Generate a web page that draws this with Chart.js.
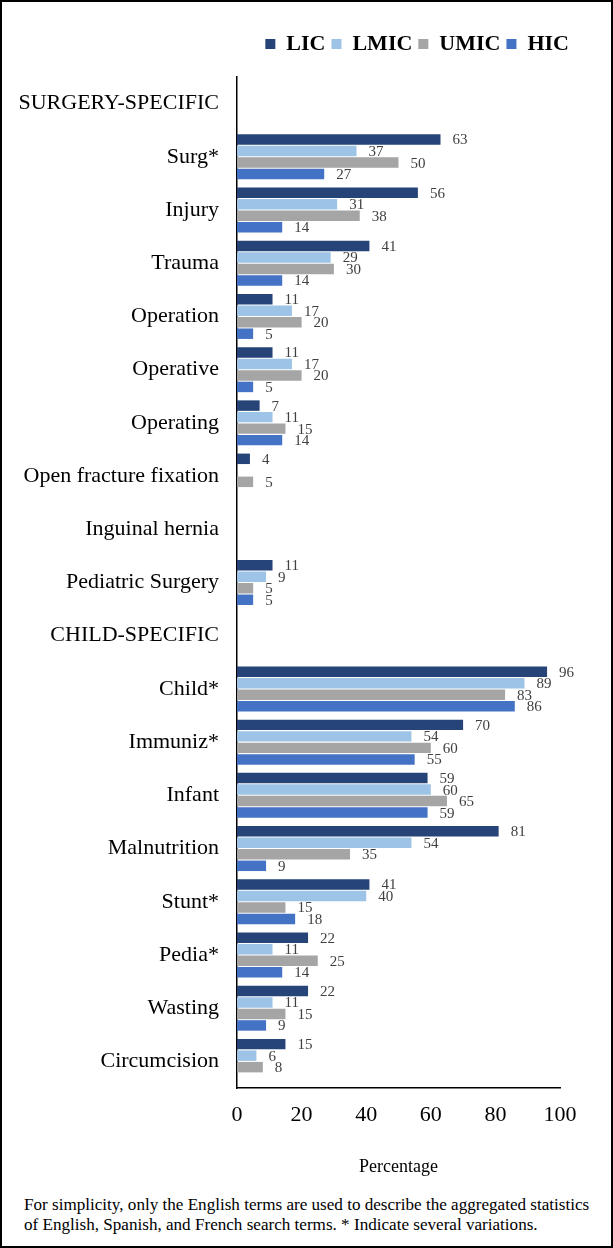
<!DOCTYPE html>
<html>
<head>
<meta charset="utf-8">
<script src="https://cdn.jsdelivr.net/npm/chart.js@4.4.1/dist/chart.umd.min.js"></script>
<style>
  body { margin: 0; background: #fff; }
  #frame { width: 613px; height: 1248px; border: 2px solid #000; box-sizing: border-box; position: relative; }
  #wrap { position: absolute; left: 0; top: 0; width: 609px; height: 1180px; }
  #note { position: absolute; left: 22px; top: 1193px; width: 578px; font-family: "Liberation Serif", serif; font-size: 17.1px; line-height: 19.5px; color: #000; }
</style>
</head>
<body>
<div id="frame">
  <div id="wrap"><canvas id="chart"></canvas></div>
  <div id="note">For simplicity, only the English terms are used to describe the aggregated statistics of English, Spanish, and French search terms. * Indicate several variations.</div>
</div>
<script>
// categories incl. the two section headers (no bars)
const categories = ["SURGERY-SPECIFIC", "Surg*", "Injury", "Trauma", "Operation", "Operative", "Operating",
  "Open fracture fixation", "Inguinal hernia", "Pediatric Surgery", "CHILD-SPECIFIC", "Child*", "Immuniz*",
  "Infant", "Malnutrition", "Stunt*", "Pedia*", "Wasting", "Circumcision"];

const lic  = [null, 63, 56, 41, 11, 11, 7, 4, null, 11, null, 96, 70, 59, 81, 41, 22, 22, 15];
const lmic = [null, 37, 31, 29, 17, 17, 11, null, null, 9, null, 89, 54, 60, 54, 40, 11, 11, 6];
const umic = [null, 50, 38, 30, 20, 20, 15, 5, null, 5, null, 83, 60, 65, 35, 15, 25, 15, 8];
const hic  = [null, 27, 14, 14, 5, 5, 14, null, null, 5, null, 86, 55, 59, 9, 18, 14, 9, null];

const xTicks = [0, 20, 40, 60, 80, 100];

const serif = "'Liberation Serif', 'Times New Roman', serif";

// value labels at the end of each bar
const valueLabels = {
  id: 'valueLabels',
  afterDatasetsDraw(chart) {
    const ctx = chart.ctx;
    ctx.save();
    ctx.font = "15px " + serif;
    ctx.fillStyle = '#404040';
    ctx.textAlign = 'left';
    ctx.textBaseline = 'middle';
    chart.data.datasets.forEach((ds, i) => {
      const meta = chart.getDatasetMeta(i);
      meta.data.forEach((bar, j) => {
        const v = ds.data[j];
        if (v === null) return;
        ctx.fillText(String(v), bar.x + 12, bar.y + 1);
      });
    });
    ctx.restore();
  }
};

// extra gap under the legend
const legendGap = {
  id: 'legendGap',
  beforeInit(chart) {
    const fit = chart.legend.fit;
    chart.legend.fit = function () {
      fit.bind(chart.legend)();
      this.height += 12;
    };
  }
};

new Chart(document.getElementById('chart'), {
  type: 'bar',
  data: {
    labels: categories,
    datasets: [
      { label: 'LIC', data: lic, backgroundColor: '#264478' },
      { label: 'LMIC', data: lmic, backgroundColor: '#9DC3E6' },
      { label: 'UMIC', data: umic, backgroundColor: '#A5A5A5' },
      { label: 'HIC', data: hic, backgroundColor: '#4472C4' }
    ]
  },
  options: {
    indexAxis: 'y',
    responsive: true,
    maintainAspectRatio: false,
    animation: false,
    categoryPercentage: 0.865,
    barPercentage: 0.91,
    layout: { padding: { top: 25, right: 36, left: 0, bottom: 0 } },
    plugins: {
      legend: {
        position: 'top',
        align: 'end',
        labels: {
          color: '#000',
          boxWidth: 10,
          boxHeight: 10,
          padding: 6,
          font: { family: serif, size: 22, weight: 'bold' }
        }
      },
      tooltip: { enabled: false }
    },
    scales: {
      x: {
        min: 0,
        max: 100,
        afterBuildTicks: s => { s.ticks = xTicks.map(v => ({ value: v })); },
        afterFit: s => { s.paddingRight = 51; },
        grid: { display: false, drawTicks: false },
        border: { color: '#000', width: 1.5 },
        ticks: { color: '#000', padding: 14, font: { family: serif, size: 22 } },
        title: { display: true, text: 'Percentage', color: '#000', padding: { top: 14 }, font: { family: serif, size: 18 } }
      },
      y: {
        grid: { display: false, drawTicks: false },
        border: { color: '#000', width: 1.5 },
        afterFit: s => { s.width = 235; },
        ticks: { color: '#000', padding: 18, autoSkip: false, font: { family: serif, size: 22 } }
      }
    }
  },
  plugins: [valueLabels, legendGap]
});
</script>
</body>
</html>
